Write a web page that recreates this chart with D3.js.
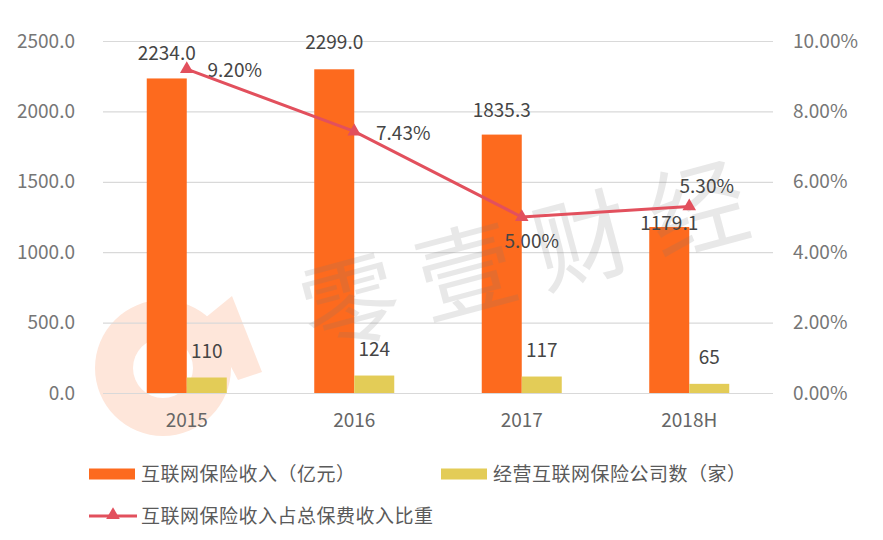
<!DOCTYPE html>
<html>
<head>
<meta charset="utf-8">
<script src="https://cdn.jsdelivr.net/npm/d3@7"></script>
<style>
  body { margin: 0; background: #fff; }
  text { font-family: "Noto Sans CJK SC", "Noto Sans", sans-serif; }
</style>
</head>
<body>
<div id="chart"></div>
<script>
// data
const years = ["2015", "2016", "2017", "2018H"];
const income = [2234.0, 2299.0, 1835.3, 1179.1];       // 互联网保险收入（亿元）
const companies = [110, 124, 117, 65];                 // 经营互联网保险公司数（家）
const share = [0.092, 0.0743, 0.05, 0.053];            // 占总保费收入比重
const leftTicks = [0, 500, 1000, 1500, 2000, 2500];
const rightTicks = [0, 0.02, 0.04, 0.06, 0.08, 0.10];

const W = 883, H = 540;
const orange = "#fd6a1e", yellow = "#e3cc57", red = "#e2505d";

const svg = d3.select("#chart").append("svg")
  .attr("width", W).attr("height", H);

const x = d3.scaleBand().domain(years).range([103, 773]);
const yL = d3.scaleLinear().domain([0, 2500]).range([393, 41]);
const yR = d3.scaleLinear().domain([0, 0.10]).range([393, 41]);
const barW = 40;
const cx = d => x(d) + x.bandwidth() / 2;

// watermark logo (light peach) behind everything
const wm = svg.append("g");
wm.append("path")
  .attr("d", d3.arc()({ innerRadius: 30, outerRadius: 68, startAngle: 0, endAngle: 2 * Math.PI }))
  .attr("transform", "translate(163,368)")
  .attr("fill", "#fee6da");
wm.append("path")
  .attr("d", "M205,318 L232,296 L262,372 L238,380 Z")
  .attr("fill", "#fee6da");

// gridlines
svg.append("g")
  .attr("transform", "translate(103,0)")
  .call(d3.axisLeft(yL).tickValues(leftTicks).tickSize(-670).tickFormat(""))
  .call(g => g.select(".domain").remove())
  .call(g => g.selectAll(".tick line").attr("stroke", "#d9d9d9").attr("stroke-width", 1.2));

// left axis labels
svg.append("g")
  .attr("transform", "translate(75,0)")
  .call(d3.axisLeft(yL).tickValues(leftTicks).tickSize(0).tickPadding(0).tickFormat(d3.format(".1f")))
  .call(g => g.select(".domain").remove())
  .call(g => g.selectAll("text").attr("fill", "#767676").style("font-size", "19px"));

// right axis labels
svg.append("g")
  .attr("transform", "translate(793,0)")
  .call(d3.axisRight(yR).tickValues(rightTicks).tickSize(0).tickPadding(0).tickFormat(d3.format(".2%")))
  .call(g => g.select(".domain").remove())
  .call(g => g.selectAll("text").attr("fill", "#767676").style("font-size", "19px"));

// x axis labels
svg.append("g")
  .attr("transform", "translate(0,393)")
  .call(d3.axisBottom(x).tickSize(0).tickPadding(21))
  .call(g => g.select(".domain").remove())
  .call(g => g.selectAll("text").attr("fill", "#666").style("font-size", "19px"));

// bars
svg.selectAll(".bar-inc").data(years).enter().append("rect")
  .attr("x", d => cx(d) - barW)
  .attr("y", (d, i) => yL(income[i]))
  .attr("width", barW)
  .attr("height", (d, i) => yL(0) - yL(income[i]))
  .attr("fill", orange);

svg.selectAll(".bar-cnt").data(years).enter().append("rect")
  .attr("x", d => cx(d))
  .attr("y", (d, i) => yL(companies[i]))
  .attr("width", barW)
  .attr("height", (d, i) => yL(0) - yL(companies[i]))
  .attr("fill", yellow);

// watermark text
svg.append("text")
  .attr("transform", "translate(535,255) rotate(-15)")
  .attr("text-anchor", "middle")
  .attr("dy", "0.35em")
  .attr("fill", "#7a7a7a")
  .attr("opacity", 0.17)
  .style("font-size", "98px")
  .style("letter-spacing", "22px")
  .text("零壹财经");

// line
const line = d3.line().x((d, i) => cx(years[i])).y(d => yR(d));
svg.append("path")
  .datum(share)
  .attr("d", line)
  .attr("fill", "none")
  .attr("stroke", red)
  .attr("stroke-width", 3);

const tri = d3.symbol().type(d3.symbolTriangle).size(80);
svg.selectAll(".mk").data(share).enter().append("path")
  .attr("d", tri)
  .attr("transform", (d, i) => `translate(${cx(years[i])},${yR(d)})`)
  .attr("fill", red);

// labels
const labelColor = "#454545";
const incDy = [-18, -20, -18, 3];
svg.selectAll(".lab-inc").data(income).enter().append("text")
  .attr("x", (d, i) => cx(years[i]) - barW / 2)
  .attr("y", (d, i) => yL(d) + incDy[i])
  .attr("text-anchor", "middle")
  .attr("fill", labelColor)
  .style("font-size", "19px")
  .text(d => d.toFixed(1));

svg.selectAll(".lab-cnt").data(companies).enter().append("text")
  .attr("x", (d, i) => cx(years[i]) + barW / 2)
  .attr("y", (d, i) => yL(d) - 19.5)
  .attr("text-anchor", "middle")
  .attr("fill", labelColor)
  .style("font-size", "19px")
  .text(d => d);

const shareOff = [[48, 7.5], [49, 8.5], [10, 31], [17.5, -13]];
svg.selectAll(".lab-share").data(share).enter().append("text")
  .attr("x", (d, i) => cx(years[i]) + shareOff[i][0])
  .attr("y", (d, i) => yR(d) + shareOff[i][1])
  .attr("text-anchor", "middle")
  .attr("fill", labelColor)
  .style("font-size", "19px")
  .text(d => d3.format(".2%")(d));

// legend
const legend = svg.append("g").style("font-size", "19px");
const items = [
  { label: "互联网保险收入（亿元）", color: orange, x: 89, y: 474, type: "bar" },
  { label: "经营互联网保险公司数（家）", color: yellow, x: 441, y: 474, type: "bar" },
  { label: "互联网保险收入占总保费收入比重", color: red, x: 89, y: 516, type: "line" }
];
items.forEach(it => {
  const g = legend.append("g").attr("transform", `translate(${it.x},${it.y})`);
  if (it.type === "bar") {
    g.append("rect").attr("x", 0).attr("y", -5.5).attr("width", 46).attr("height", 11).attr("fill", it.color);
  } else {
    g.append("line").attr("x1", 0).attr("x2", 48).attr("y1", 0).attr("y2", 0)
      .attr("stroke", it.color).attr("stroke-width", 3);
    g.append("path").attr("d", tri).attr("transform", "translate(24,-1)").attr("fill", it.color);
  }
  g.append("text")
    .attr("x", 52)
    .attr("dy", "0.35em")
    .attr("fill", "#5a5a5a")
    .style("letter-spacing", "0.5px")
    .text(it.label);
});
</script>
</body>
</html>
